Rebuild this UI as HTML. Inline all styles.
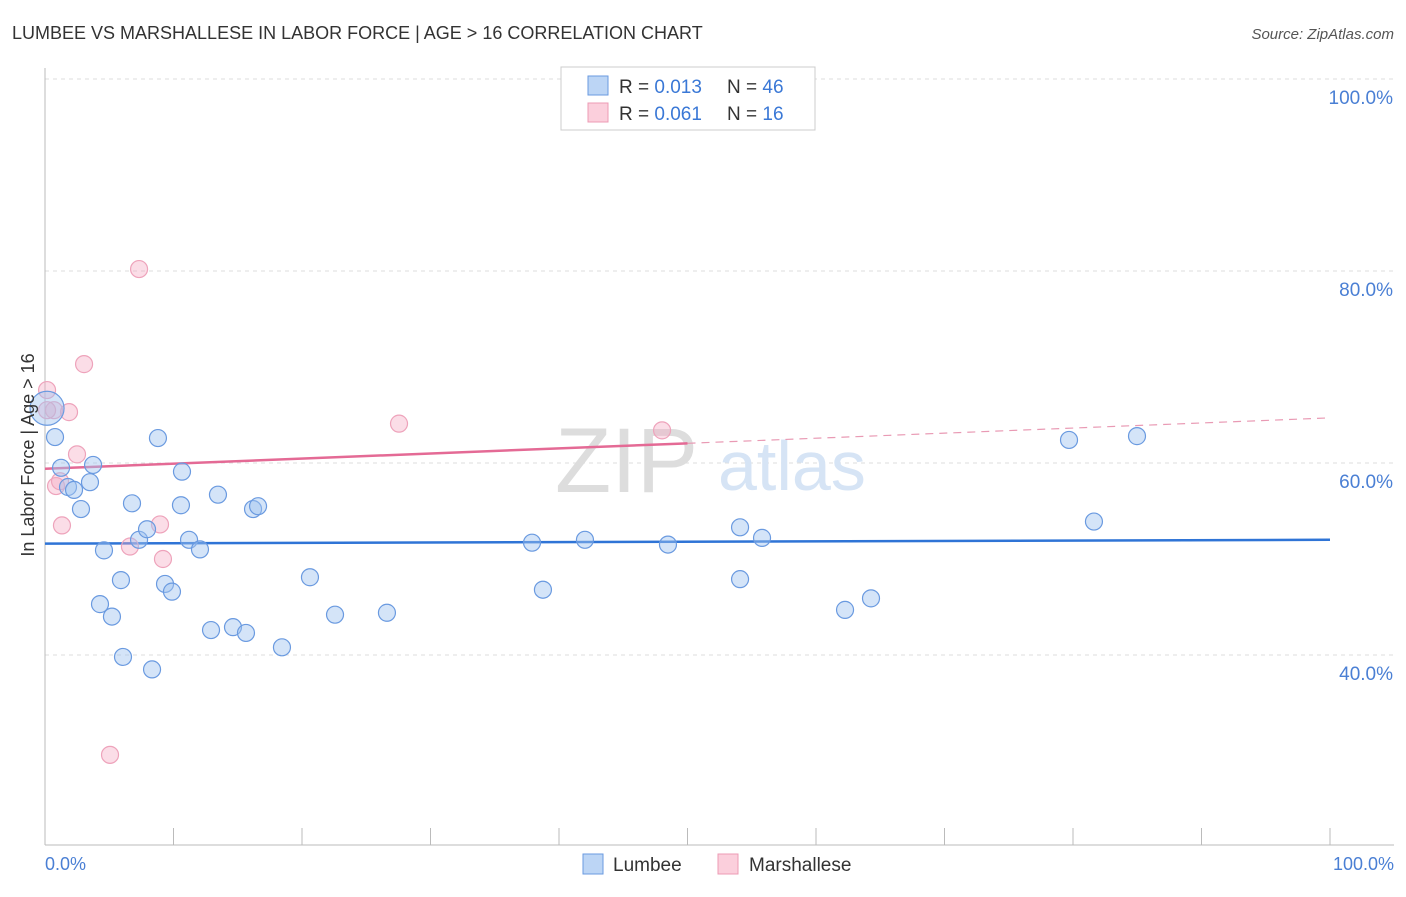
<!DOCTYPE html>
<html><head><meta charset="utf-8"><style>
body{margin:0;background:#fff;font-family:"Liberation Sans",sans-serif;}
svg text{font-family:"Liberation Sans",sans-serif;}
</style></head><body>
<svg id="chart" width="1406" height="892" viewBox="0 0 1406 892">
<text x="12" y="39" font-size="18" fill="#333">LUMBEE VS MARSHALLESE IN LABOR FORCE | AGE &gt; 16 CORRELATION CHART</text>
<text x="1394" y="39" font-size="15" fill="#555" font-style="italic" text-anchor="end">Source: ZipAtlas.com</text>
<g id="grid"></g>
<text x="555" y="492" font-size="92" fill="#ddd" font-family="Liberation Serif">ZIP</text>
<text x="718" y="490" font-size="70" fill="#d6e4f5">atlas</text>
<line x1="45" y1="68" x2="45" y2="845" stroke="#bbb"/>
<line x1="45" y1="845" x2="1394" y2="845" stroke="#bbb"/>
<g id="xticks"></g>
<g id="trend"></g>
<g id="points"></g>
<text x="34" y="455" font-size="18" fill="#333" text-anchor="middle" transform="rotate(-90 34 455)">In Labor Force | Age &gt; 16</text>
<text x="45" y="870" font-size="18" fill="#4a7fd4">0.0%</text>
<text x="1394" y="870" font-size="18" fill="#4a7fd4" text-anchor="end">100.0%</text>
<g>
<rect x="561" y="67" width="254" height="63" fill="#fff" stroke="#ccc"/>
<rect x="588" y="76" width="20" height="19" fill="#bcd5f5" stroke="#6a9ae0"/>
<rect x="588" y="103" width="20" height="19" fill="#fbcfdc" stroke="#ec9bb4"/>
<text x="619" y="93" font-size="19" fill="#333">R = <tspan fill="#3a78d6">0.013</tspan></text>
<text x="727" y="93" font-size="19" fill="#333">N = <tspan fill="#3a78d6">46</tspan></text>
<text x="619" y="120" font-size="19" fill="#333">R = <tspan fill="#3a78d6">0.061</tspan></text>
<text x="727" y="120" font-size="19" fill="#333">N = <tspan fill="#3a78d6"> 16</tspan></text>
</g>
<g>
<rect x="583" y="854" width="20" height="20" fill="#bcd5f5" stroke="#6a9ae0"/>
<text x="613" y="871" font-size="19" fill="#333">Lumbee</text>
<rect x="718" y="854" width="20" height="20" fill="#fbcfdc" stroke="#ec9bb4"/>
<text x="749" y="871" font-size="19" fill="#333">Marshallese</text>
</g>
</svg>
<script>
const yTicks=[40,60,80,100];
const xTickVals=[0,10,20,30,40,50,60,70,80,90,100];
const blueX=[0.16,0.78,1.25,1.79,2.26,2.80,3.50,3.74,4.59,4.28,5.21,5.91,6.07,6.77,7.32,7.94,8.33,8.79,9.34,9.88,10.66,10.58,11.21,12.06,12.92,13.46,14.63,15.64,16.19,16.58,18.44,20.62,22.57,26.61,37.90,38.75,42.02,48.48,54.09,54.09,55.80,62.26,64.28,79.69,81.63,84.98];
const blueY=[65.7,62.7,59.5,57.5,57.2,55.2,58.0,59.8,50.9,45.3,44.0,47.8,39.8,55.8,52.0,53.1,38.5,62.6,47.4,46.6,59.1,55.6,52.0,51.0,42.6,56.7,42.9,42.3,55.2,55.5,40.8,48.1,44.2,44.4,51.7,46.8,52.0,51.5,53.3,47.9,52.2,44.7,45.9,62.4,53.9,62.8];
const pinkX=[0.16,0.70,0.86,1.17,1.32,1.87,2.49,3.04,5.06,6.61,7.32,8.95,9.18,27.55,48.02,0.16];
const pinkY=[67.6,65.5,57.6,58.1,53.5,65.3,60.9,70.3,29.6,51.3,80.2,53.6,50.0,64.1,63.4,65.5];
const blueTrend=[51.6,52.0];
const pinkTrend=[59.4,64.7];
const xs=v=>45+v*12.85, ys=v=>79+(100-v)*9.6;
const NS="http://www.w3.org/2000/svg";
function mk(t,a,p){const e=document.createElementNS(NS,t);for(const k in a)e.setAttribute(k,a[k]);p.appendChild(e);return e;}
const grid=document.getElementById('grid');
yTicks.forEach(v=>{
 const l=mk('line',{x1:45,x2:1394,y1:ys(v),y2:ys(v),stroke:'#ddd','stroke-dasharray':'4,4'},grid);
 
 
 const t=mk('text',{x:1393,y:ys(v)+25,'font-size':19,fill:'#4a7fd4','text-anchor':'end'},grid);
 t.textContent=v.toFixed(1)+'%';
 
 
});
const xt=document.getElementById('xticks');
xTickVals.forEach(v=>{
 const l=mk('line',{x1:xs(v),x2:xs(v),y1:828,y2:845,stroke:'#bbb'},xt);
 
 
});
const tr=document.getElementById('trend');
let l1=mk('line',{x1:xs(0),y1:ys(blueTrend[0]),x2:xs(100),y2:ys(blueTrend[1]),stroke:'#2f74d6','stroke-width':2.5},tr);


const pm=pinkTrend[0]+(pinkTrend[1]-pinkTrend[0])*0.5;
let l2=mk('line',{x1:xs(0),y1:ys(pinkTrend[0]),x2:xs(50),y2:ys(pm),stroke:'#e46a95','stroke-width':2.5},tr);


let l3=mk('line',{x1:xs(50),y1:ys(pm),x2:xs(100),y2:ys(pinkTrend[1]),stroke:'#e99ab4','stroke-width':1.2,'stroke-dasharray':'8,6'},tr);


const pg=document.getElementById('points');
pinkX.forEach((x,i)=>{
 const c=mk('circle',{cx:xs(x),cy:ys(pinkY[i]),r:8.5,fill:'rgba(246,170,195,0.4)',stroke:'#eea3bb','stroke-width':1.2},pg);
 
 
});
blueX.forEach((x,i)=>{
 const c=mk('circle',{cx:xs(x),cy:ys(blueY[i]),r:i===0?17:8.5,fill:'rgba(160,195,240,0.45)',stroke:'#6a9ae0','stroke-width':1.2},pg);
 
 
});
</script>
</body></html>
